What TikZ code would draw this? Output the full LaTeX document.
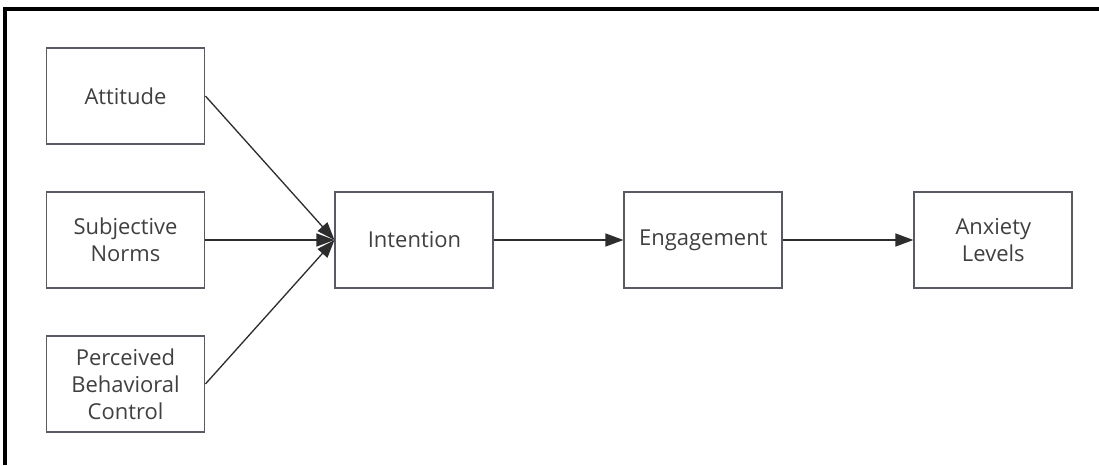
\documentclass[tikz,border=0pt]{standalone}
\usepackage{fontspec}
\setmainfont{Open Sans}
\usepackage{tikz}
\usetikzlibrary{positioning,arrows.meta}
\usepackage{xcolor}
\definecolor{BoxLine}{RGB}{88,92,98}
\definecolor{LinkLine}{RGB}{45,45,45}
\definecolor{DarkText}{RGB}{64,64,64}

\begin{document}
\begin{tikzpicture}[
    factor/.style={rectangle, draw=BoxLine, line width=1.1pt, fill=white,
        minimum width=3.16cm, minimum height=1.92cm, align=center,
        font=\fontsize{12.5}{15.4}\selectfont, text=DarkText},
    link/.style={-{Triangle[length=3.6mm, width=2.6mm]}, line width=0.75pt, LinkLine},
]
\useasboundingbox (0,0) rectangle (21.98,-9.3);
% outer frame (only top and left edges show)
\draw[line width=1.8pt, black] (0.1,-9.3) -- (0.1,-0.18) -- (21.98,-0.18);

\node[factor] (sub) at (2.51,-4.8) {Subjective\\Norms};
\node[factor, above=0.92cm of sub] (att) {Attitude};
\node[factor, below=0.92cm of sub] (pbc) {Perceived\\Behavioral\\Control};
\node[factor, right=2.58cm of sub] (int) {Intention};
\node[factor, right=2.58cm of int] (eng) {Engagement};
\node[factor, right=2.6cm of eng] (anx) {Anxiety\\Levels};

\draw[link] (att.east) -- (int.west);
\draw[link] (sub.east) -- (int.west);
\draw[link] (pbc.east) -- (int.west);
\draw[link] (int) -- (eng);
\draw[link] (eng) -- (anx);
\end{tikzpicture}
\end{document}
